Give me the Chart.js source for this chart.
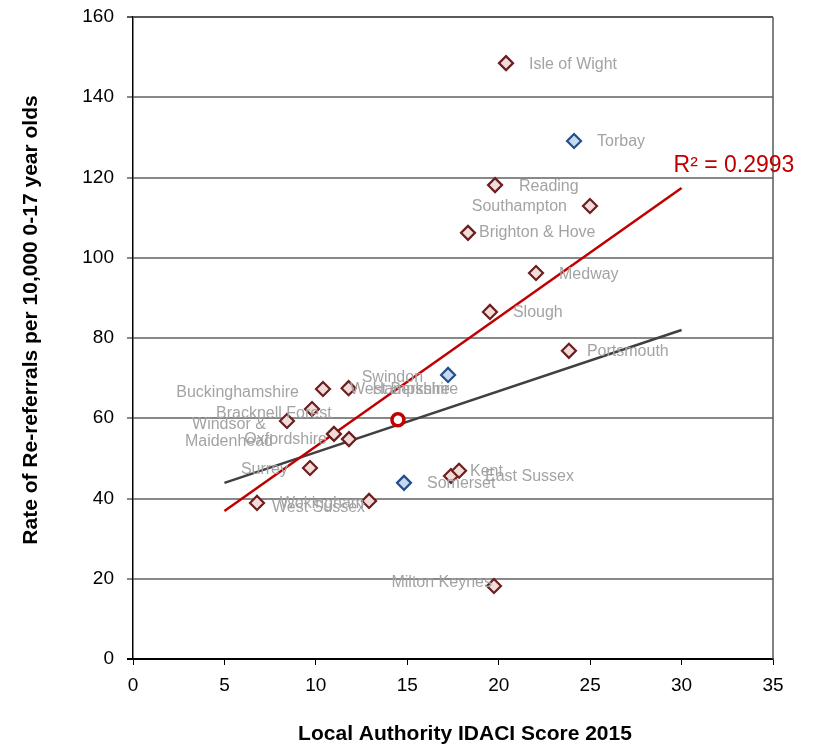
<!DOCTYPE html>
<html>
<head>
<meta charset="utf-8">
<script src="https://cdn.jsdelivr.net/npm/chart.js@4"></script>
<style>
  body { margin: 0; background: #fff; }
  #wrap { width: 821px; height: 751px; position: relative; }
</style>
</head>
<body>
<div id="wrap"><canvas id="chart"></canvas></div>
<script>
// local authorities (red diamonds)
const redNames = ["Isle of Wight", "Reading", "Southampton", "Brighton & Hove", "Medway", "Slough",
  "Portsmouth", "Buckinghamshire", "Hampshire", "West Berkshire", "Bracknell Forest",
  "Windsor & Maidenhead", "Oxfordshire", "Surrey", "Kent", "East Sussex", "Wokingham",
  "West Sussex", "Milton Keynes"];
const redX = [20.40, 19.80, 24.99, 18.32, 22.04, 19.52, 23.84, 10.39, 11.79, 10.99, 9.79,
  8.42, 11.81, 9.68, 17.39, 17.83, 6.78, 12.91, 19.74];
const redY = [148.5, 118.1, 112.9, 106.2, 96.2, 86.5, 76.8, 67.3, 67.5, 56.1, 62.3,
  59.3, 54.8, 47.6, 45.6, 46.9, 38.9, 39.4, 18.2];

// blue diamonds
const blueNames = ["Torbay", "Swindon", "Somerset"];
const blueX = [24.12, 17.23, 14.82];
const blueY = [129.1, 70.8, 43.9];

// average point (red circle)
const meanX = [14.49];
const meanY = [59.6];

// trend lines
const trendX = [5, 30];
const trendRedY = [36.9, 117.4];
const trendBlackY = [43.9, 82.0];
const rSquared = "R\u00b2 = 0.2993";

const xTicks = [0, 5, 10, 15, 20, 25, 30, 35];
const yTicks = [0, 20, 40, 60, 80, 100, 120, 140, 160];

const xTitle = "Local Authority IDACI Score 2015";
const yTitle = "Rate of Re-referrals per 10,000 0-17 year olds";

// where each data label sits relative to its marker
const labelPos = {
  "Isle of Wight": [23, 1, "left"],
  "Torbay": [23, 1, "left"],
  "Reading": [24, 1, "left"],
  "Southampton": [-23, 1, "right"],
  "Brighton & Hove": [11, 0, "left"],
  "Medway": [23, 2, "left"],
  "Slough": [23, 1, "left"],
  "Portsmouth": [18, 1, "left"],
  "Swindon": [-25, 3, "right"],
  "Buckinghamshire": [-24, 4, "right"],
  "Hampshire": [24, 1, "left"],
  "West Berkshire": [16, -44, "left"],
  "Bracknell Forest": [-96, 5, "left"],
  "Windsor & Maidenhead": [-58, 4, "center"],
  "Oxfordshire": [-22, 0, "right"],
  "Surrey": [-22, 2, "right"],
  "Kent": [19, -4, "left"],
  "East Sussex": [26, 6, "left"],
  "Somerset": [23, 1, "left"],
  "Wokingham": [23, 1, "left"],
  "West Sussex": [-4, 7, "right"],
  "Milton Keynes": [-2, -3, "right"]
};

const FONT = "'Liberation Sans', Arial, sans-serif";

function pts(xs, ys) {
  return xs.map((x, i) => ({ x: x, y: ys[i] }));
}

const extras = {
  id: "extras",
  afterDatasetsDraw(chart) {
    const ctx = chart.ctx;
    const area = chart.chartArea;
    const xs = chart.scales.x, ys = chart.scales.y;
    ctx.save();
    // right border of plot
    ctx.strokeStyle = "#595959";
    ctx.lineWidth = 1.5;
    ctx.beginPath();
    ctx.moveTo(area.right, area.top);
    ctx.lineTo(area.right, area.bottom);
    ctx.stroke();

    // data labels
    ctx.font = "16px " + FONT;
    ctx.fillStyle = "#a3a3a3";
    ctx.textBaseline = "middle";
    const drawLabels = (names, xv, yv) => {
      names.forEach((n, i) => {
        const p = labelPos[n];
        const px = xs.getPixelForValue(xv[i]) + p[0];
        const py = ys.getPixelForValue(yv[i]) + p[1];
        ctx.textAlign = p[2];
        if (n === "Windsor & Maidenhead") {
          ctx.fillText("Windsor &", px, py);
          ctx.fillText("Maidenhead", px, py + 17);
        } else {
          ctx.fillText(n, px, py);
        }
      });
    };
    drawLabels(redNames, redX, redY);
    drawLabels(blueNames, blueX, blueY);

    // R squared
    ctx.font = "23px " + FONT;
    ctx.fillStyle = "#c00000";
    ctx.textAlign = "left";
    ctx.fillText(rSquared, xs.getPixelForValue(trendX[1]) - 8, ys.getPixelForValue(trendRedY[1]) - 22);

    // axis titles
    ctx.fillStyle = "#000";
    ctx.font = "bold 21px " + FONT;
    ctx.textAlign = "center";
    ctx.fillText(xTitle, 465, 734);
    ctx.translate(31, 320);
    ctx.rotate(-Math.PI / 2);
    ctx.fillText(yTitle, 0, 0);
    ctx.restore();
  }
};

new Chart(document.getElementById("chart"), {
  type: "scatter",
  data: {
    datasets: [
      {
        label: "Mean",
        data: pts(meanX, meanY),
        pointStyle: "circle",
        pointRadius: 6,
        pointBorderWidth: 3.5,
        pointBackgroundColor: "#ffffff",
        pointBorderColor: "#c00000"
      },
      {
        label: "Other",
        data: pts(blueX, blueY),
        pointStyle: "rectRot",
        pointRadius: 7,
        pointBorderWidth: 2.2,
        pointBackgroundColor: "#c6d9f1",
        pointBorderColor: "#254f8a"
      },
      {
        label: "Authorities",
        data: pts(redX, redY),
        pointStyle: "rectRot",
        pointRadius: 7,
        pointBorderWidth: 2.2,
        pointBackgroundColor: "#f2dcdb",
        pointBorderColor: "#6b1f1f"
      },
      {
        label: "Trend red",
        type: "line",
        data: pts(trendX, trendRedY),
        borderColor: "#c00000",
        borderWidth: 2.5,
        pointRadius: 0,
        fill: false
      },
      {
        label: "Trend all",
        type: "line",
        data: pts(trendX, trendBlackY),
        borderColor: "#404040",
        borderWidth: 2.5,
        pointRadius: 0,
        fill: false
      }
    ]
  },
  options: {
    responsive: true,
    maintainAspectRatio: false,
    animation: false,
    layout: { padding: { top: 17, right: 48, left: 0, bottom: 0 } },
    plugins: { legend: { display: false }, tooltip: { enabled: false } },
    scales: {
      x: {
        type: "linear",
        min: 0,
        max: 35,
        afterBuildTicks: (s) => { s.ticks = xTicks.map(v => ({ value: v })); },
        afterFit: (s) => { s.height = 92; s.paddingLeft = 0; s.paddingRight = 0; },
        ticks: { color: "#000", font: { family: FONT, size: 19 }, padding: 9 },
        grid: { drawOnChartArea: false, drawTicks: true, tickLength: 6, color: "#000", lineWidth: 1 },
        border: { color: "#000", width: 1.5 }
      },
      y: {
        min: 0,
        max: 160,
        afterBuildTicks: (s) => { s.ticks = yTicks.map(v => ({ value: v })); },
        afterFit: (s) => { s.width = 133; s.paddingTop = 0; s.paddingBottom = 0; },
        ticks: { color: "#000", font: { family: FONT, size: 19 }, padding: 13 },
        grid: {
          tickLength: 6,
          lineWidth: 2,
          color: (c) => c.tick && c.tick.value === 160 ? "#595959" : (c.tick && c.tick.value === 0 ? "#000" : "#888888")
        },
        border: { color: "#000", width: 1.5 }
      }
    }
  },
  plugins: [extras]
});
</script>
</body>
</html>
